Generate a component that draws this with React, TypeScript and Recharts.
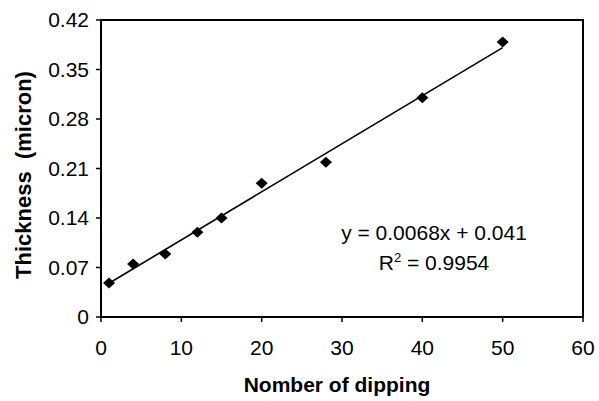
import React from 'react';
import { ScatterChart, Scatter, XAxis, YAxis, ReferenceLine, ReferenceArea } from 'recharts';

const dippings = [1, 4, 8, 12, 15, 20, 28, 40, 50];
const thickness = [0.048, 0.075, 0.089, 0.12, 0.14, 0.189, 0.219, 0.31, 0.389];
const xTicks = [0, 10, 20, 30, 40, 50, 60];
const yTicks = [0, 0.07, 0.14, 0.21, 0.28, 0.35, 0.42];
const yTickLabels = ['0', '0.07', '0.14', '0.21', '0.28', '0.35', '0.42'];
const trendSlope = 0.0068;
const trendIntercept = 0.041;
const trendRange = [1, 50];
const equationText = 'y = 0.0068x + 0.041';
const r2Value = '0.9954';

const data = dippings.map((x, i) => ({ x, y: thickness[i] }));
const trendSegment = trendRange.map((x) => ({ x, y: trendSlope * x + trendIntercept }));

const FONT = '"Liberation Sans", Arial, sans-serif';

const Diamond = (props: any) => {
  const { cx, cy } = props;
  if (cx == null || cy == null) return null;
  const hw = 6;
  const hh = 5.5;
  return (
    <polygon
      points={`${cx},${cy - hh} ${cx + hw},${cy} ${cx},${cy + hh} ${cx - hw},${cy}`}
      fill="#000"
    />
  );
};

export default function App() {
  return (
    <div style={{ position: 'absolute', left: 0, top: 0, background: '#fff' }}>
      <ScatterChart
        width={599}
        height={401}
        margin={{ top: 20, right: 16, left: 0, bottom: 54 }}
      >
        <XAxis
          type="number"
          dataKey="x"
          domain={[0, 60]}
          ticks={xTicks}
          height={30}
          tickSize={5}
          tickMargin={18}
          axisLine={{ stroke: '#000', strokeWidth: 2 }}
          tickLine={{ stroke: '#000', strokeWidth: 1.5 }}
          tick={{ fill: '#000', fontSize: 21, fontFamily: FONT }}
          allowDataOverflow
        />
        <YAxis
          type="number"
          dataKey="y"
          domain={[0, 0.42]}
          ticks={yTicks}
          tickFormatter={(v: number) => yTickLabels[yTicks.indexOf(v)] ?? String(v)}
          width={101}
          tickSize={5}
          tickMargin={7}
          axisLine={{ stroke: '#000', strokeWidth: 2 }}
          tickLine={{ stroke: '#000', strokeWidth: 1.5 }}
          tick={{ fill: '#000', fontSize: 21, fontFamily: FONT }}
          allowDataOverflow
        />
        <ReferenceArea
          x1={0}
          x2={60}
          y1={0}
          y2={0.42}
          fill="none"
          fillOpacity={0}
          stroke="#000"
          strokeWidth={2}
          ifOverflow="visible"
        />
        <ReferenceLine
          segment={trendSegment}
          stroke="#000"
          strokeWidth={1.6}
          ifOverflow="visible"
        />
        <Scatter data={data} shape={Diamond} isAnimationActive={false} />
        <text
          x={434}
          y={240}
          textAnchor="middle"
          fontSize={21}
          fontFamily={FONT}
          fill="#000"
        >
          {equationText}
        </text>
        <text
          x={434}
          y={270}
          textAnchor="middle"
          fontSize={21}
          fontFamily={FONT}
          fill="#000"
        >
          R<tspan dy={-8} fontSize={13}>2</tspan>
          <tspan dy={8}>{' = ' + r2Value}</tspan>
        </text>
        <text
          x={337}
          y={392}
          textAnchor="middle"
          fontSize={21}
          fontWeight="bold"
          fontFamily={FONT}
          fill="#000"
        >
          Nomber of dipping
        </text>
        <text
          x={31}
          y={175}
          textAnchor="middle"
          fontSize={22}
          fontWeight="bold"
          fontFamily={FONT}
          fill="#000"
          transform="rotate(-90, 31, 175)"
        >
          {'Thickness\u00a0 (micron)'}
        </text>
      </ScatterChart>
    </div>
  );
}
